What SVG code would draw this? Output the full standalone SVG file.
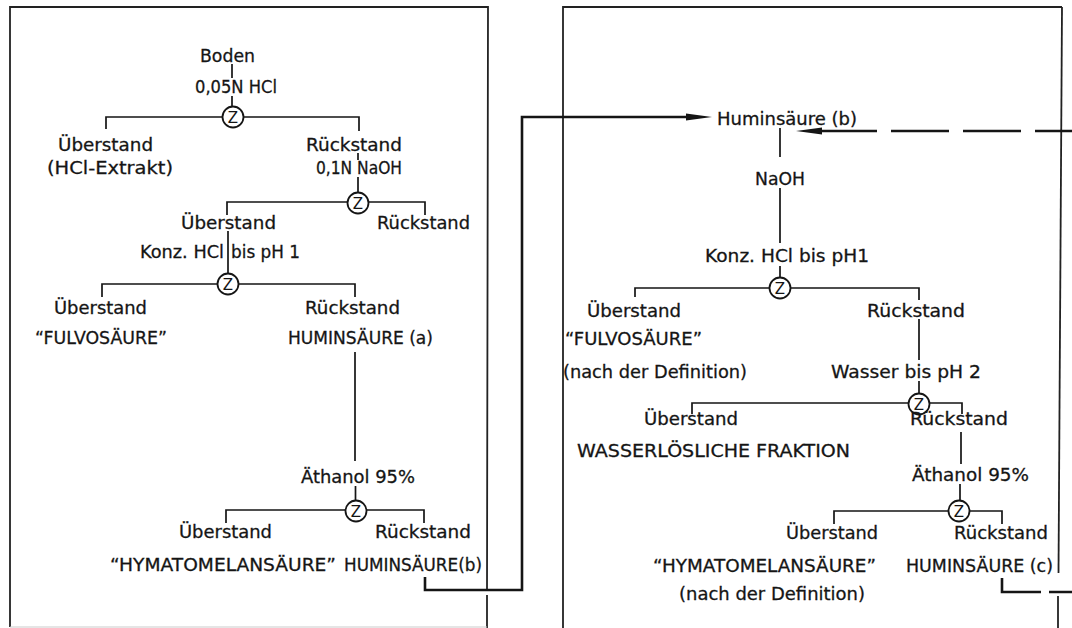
<svg xmlns="http://www.w3.org/2000/svg" xmlns:xlink="http://www.w3.org/1999/xlink" width="1072" height="628" viewBox="0 0 1072 628">
<style>
.t{font-family:"DejaVu Sans","Liberation Sans",sans-serif;font-size:18px;fill:#151515;stroke:#151515;stroke-width:0.3}
.zt{font-family:"DejaVu Sans","Liberation Sans",sans-serif;font-size:15px;fill:#151515;text-anchor:middle}
.ln{stroke:#151515;stroke-width:1.7;fill:none}
.box{stroke:#222;stroke-width:1.8;fill:none}
.cn{stroke:#151515;stroke-width:2.6;fill:none}
.zc{fill:#fff;stroke:#151515;stroke-width:1.8}
</style>
<defs>
<marker id="ah" markerUnits="userSpaceOnUse" viewBox="0 0 26 9" refX="0" refY="4.5" markerWidth="26" markerHeight="9" orient="auto">
<path d="M0,1 L26,4.5 L0,8 z" fill="#151515"/>
</marker>
<g id="zsym">
<circle class="zc" cx="0" cy="0" r="10.5"/>
<text class="zt" x="0" y="5.5">Z</text>
</g>
</defs>
<rect width="1072" height="628" fill="#fff"/>

<g id="panel-left">
<path class="box" d="M487,590 L488,7 H10 V627"/>
<path class="box" d="M487,595 V628"/>
<path d="M10,627 H487" stroke="#ccc" stroke-width="1.2" fill="none"/>
</g>
<g id="panel-right">
<path class="box" d="M1062,7 H563 V628"/>
<path class="box" d="M1062,7 L1058.5,573"/>
<path class="box" d="M1058,596 V628"/>
</g>

<g id="connectors">
<path class="ln" d="M232,64 V78 M232,96 V107"/>
<path class="ln" d="M106,129 V117 H359 V131 M358,153 V160 M358,177 V193"/>
<path class="ln" d="M227,215 V202 H425 V215"/>
<path class="ln" d="M228,231 V274"/>
<path class="ln" d="M102,297 V284 H355 V297"/>
<path class="ln" d="M355,352 V461 M355.5,486 V501"/>
<path class="ln" d="M226,523 V510 H424 V523"/>
<path class="ln" d="M780,128 V157 M780,188 V243 M780,266 V278"/>
<path class="ln" d="M635,297 V288 H919 V300 M919,319 V360 M919,381 V394"/>
<path class="ln" d="M692,414 V403 H962 V414"/>
<path class="ln" d="M961,432 V464 M960,484 V501"/>
<path class="ln" d="M834,524 V511 H1002 V524"/>
<path class="cn" d="M425,577 V590 H522 V117 H686" marker-end="url(#ah)"/>
<path class="cn" d="M1072,131 H822" stroke-dasharray="58 14" stroke-dashoffset="21" marker-end="url(#ah)"/>
<path class="cn" d="M1002,578 V592 H1072" stroke-dasharray="53 8"/>
</g>

<g id="separators">
<use xlink:href="#zsym" x="233" y="117"/>
<use xlink:href="#zsym" x="358" y="203"/>
<use xlink:href="#zsym" x="228" y="284"/>
<use xlink:href="#zsym" x="356" y="511"/>
<use xlink:href="#zsym" x="780" y="288"/>
<use xlink:href="#zsym" x="919" y="404"/>
<use xlink:href="#zsym" x="959" y="511"/>
</g>

<g id="node-boden"><text class="t" x="200" y="62" textLength="55" lengthAdjust="spacingAndGlyphs">Boden</text></g>
<g id="node-hcl"><text class="t" x="195" y="93" textLength="82" lengthAdjust="spacingAndGlyphs">0,05N HCl</text></g>
<g id="node-l-ueb1"><text class="t" x="58" y="151" textLength="95" lengthAdjust="spacingAndGlyphs">Überstand</text><text class="t" x="47" y="174" textLength="126" lengthAdjust="spacingAndGlyphs">(HCl-Extrakt)</text></g>
<g id="node-l-rue1"><text class="t" x="306" y="151" textLength="96" lengthAdjust="spacingAndGlyphs">Rückstand</text><text class="t" x="316" y="174" textLength="86" lengthAdjust="spacingAndGlyphs">0,1N NaOH</text></g>
<g id="node-l-ueb2"><text class="t" x="181" y="229" textLength="95" lengthAdjust="spacingAndGlyphs">Überstand</text><text class="t" x="140" y="258" textLength="84" lengthAdjust="spacingAndGlyphs">Konz. HCl</text><text class="t" x="231" y="258" textLength="69" lengthAdjust="spacingAndGlyphs">bis pH 1</text></g>
<g id="node-l-rue2"><text class="t" x="377" y="229" textLength="93" lengthAdjust="spacingAndGlyphs">Rückstand</text></g>
<g id="node-l-ueb3"><text class="t" x="54" y="314" textLength="93" lengthAdjust="spacingAndGlyphs">Überstand</text><text class="t" x="35" y="344" textLength="132" lengthAdjust="spacingAndGlyphs">“FULVOSÄURE”</text></g>
<g id="node-l-rue3"><text class="t" x="305" y="314" textLength="95" lengthAdjust="spacingAndGlyphs">Rückstand</text><text class="t" x="288" y="344" textLength="145" lengthAdjust="spacingAndGlyphs">HUMINSÄURE (a)</text></g>
<g id="node-l-eth"><text class="t" x="301" y="483" textLength="114" lengthAdjust="spacingAndGlyphs">Äthanol 95%</text></g>
<g id="node-l-ueb4"><text class="t" x="179" y="538" textLength="93" lengthAdjust="spacingAndGlyphs">Überstand</text><text class="t" x="110" y="571" textLength="226" lengthAdjust="spacingAndGlyphs">“HYMATOMELANSÄURE”</text></g>
<g id="node-l-rue4"><text class="t" x="375" y="538" textLength="96" lengthAdjust="spacingAndGlyphs">Rückstand</text><text class="t" x="344" y="571" textLength="138" lengthAdjust="spacingAndGlyphs">HUMINSÄURE(b)</text></g>

<g id="node-r-hb"><text class="t" x="717" y="125" textLength="140" lengthAdjust="spacingAndGlyphs">Huminsäure (b)</text></g>
<g id="node-r-naoh"><text class="t" x="755" y="185" textLength="50" lengthAdjust="spacingAndGlyphs">NaOH</text></g>
<g id="node-r-hcl"><text class="t" x="705" y="262" textLength="164" lengthAdjust="spacingAndGlyphs">Konz. HCl bis pH1</text></g>
<g id="node-r-ueb1"><text class="t" x="587" y="317" textLength="94" lengthAdjust="spacingAndGlyphs">Überstand</text><text class="t" x="565" y="345" textLength="137" lengthAdjust="spacingAndGlyphs">“FULVOSÄURE”</text><text class="t" x="563" y="378" textLength="184" lengthAdjust="spacingAndGlyphs">(nach der Definition)</text></g>
<g id="node-r-rue1"><text class="t" x="867" y="317" textLength="98" lengthAdjust="spacingAndGlyphs">Rückstand</text><text class="t" x="831" y="378" textLength="150" lengthAdjust="spacingAndGlyphs">Wasser bis pH 2</text></g>
<g id="node-r-ueb2"><text class="t" x="644" y="425" textLength="94" lengthAdjust="spacingAndGlyphs">Überstand</text><text class="t" x="577" y="457" textLength="273" lengthAdjust="spacingAndGlyphs">WASSERLÖSLICHE FRAKTION</text></g>
<g id="node-r-rue2"><text class="t" x="910" y="425" textLength="98" lengthAdjust="spacingAndGlyphs">Rückstand</text><text class="t" x="912" y="481" textLength="117" lengthAdjust="spacingAndGlyphs">Äthanol 95%</text></g>
<g id="node-r-ueb3"><text class="t" x="786" y="539" textLength="92" lengthAdjust="spacingAndGlyphs">Überstand</text><text class="t" x="653" y="572" textLength="223" lengthAdjust="spacingAndGlyphs">“HYMATOMELANSÄURE”</text><text class="t" x="679" y="600" textLength="186" lengthAdjust="spacingAndGlyphs">(nach der Definition)</text></g>
<g id="node-r-rue3"><text class="t" x="954" y="539" textLength="94" lengthAdjust="spacingAndGlyphs">Rückstand</text><text class="t" x="906" y="572" textLength="147" lengthAdjust="spacingAndGlyphs">HUMINSÄURE (c)</text></g>
</svg>
